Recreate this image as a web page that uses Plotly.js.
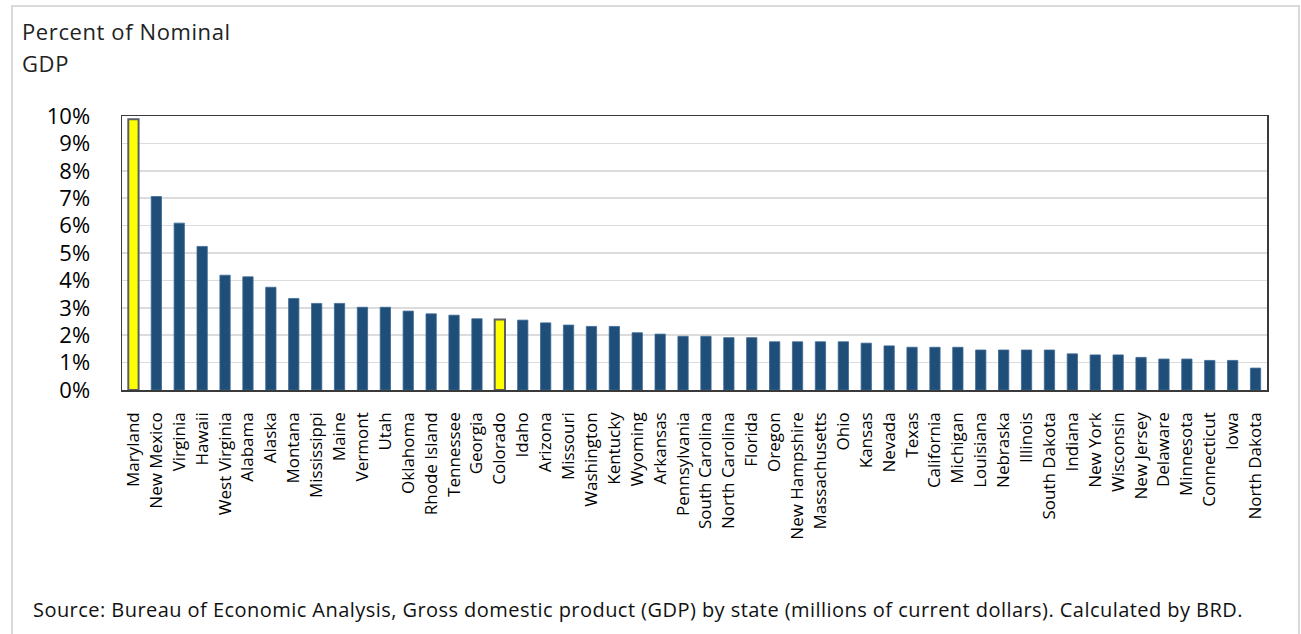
<!DOCTYPE html>
<html>
<head>
<meta charset="utf-8">
<script src="https://cdn.plot.ly/plotly-3.0.1.min.js"></script>
<style>
html,body{margin:0;padding:0;background:#fff;}
#chart{width:1301px;height:634px;}
#chart g.annotation[data-index="0"] .annotation-text,
#chart g.annotation[data-index="1"] .annotation-text{letter-spacing:0.6px;}
#chart g.annotation[data-index="2"] .annotation-text{letter-spacing:0.45px;}
</style>
</head>
<body>
<div id="chart"></div>
<script>
var states = ["Maryland","New Mexico","Virginia","Hawaii","West Virginia","Alabama","Alaska","Montana","Mississippi","Maine","Vermont","Utah","Oklahoma","Rhode Island","Tennessee","Georgia","Colorado","Idaho","Arizona","Missouri","Washington","Kentucky","Wyoming","Arkansas","Pennsylvania","South Carolina","North Carolina","Florida","Oregon","New Hampshire","Massachusetts","Ohio","Kansas","Nevada","Texas","California","Michigan","Louisiana","Nebraska","Illinois","South Dakota","Indiana","New York","Wisconsin","New Jersey","Delaware","Minnesota","Connecticut","Iowa","North Dakota"];
var pctGDP = [9.88,7.06,6.09,5.24,4.19,4.13,3.75,3.34,3.16,3.16,3.02,3.02,2.88,2.78,2.73,2.60,2.57,2.55,2.45,2.37,2.32,2.32,2.09,2.04,1.96,1.96,1.91,1.91,1.76,1.76,1.76,1.76,1.71,1.61,1.56,1.56,1.56,1.46,1.46,1.46,1.46,1.32,1.28,1.28,1.19,1.13,1.13,1.08,1.08,0.80];
var highlighted = ["Maryland","Colorado"];
var yTickVals = [0,1,2,3,4,5,6,7,8,9,10];
var yTickText = ["0%","1%","2%","3%","4%","5%","6%","7%","8%","9%","10%"];
var titleLines = ["Percent of Nominal","GDP"];
var sourceText = "Source: Bureau of Economic Analysis, Gross domestic product (GDP) by state (millions of current dollars). Calculated by BRD.";

var fillColors = states.map(function(s){ return highlighted.indexOf(s) >= 0 ? "#FFFF00" : "#1F4E79"; });
var lineColors = states.map(function(s){ return highlighted.indexOf(s) >= 0 ? "#5a5f66" : "#3d6a96"; });
var lineWidths = states.map(function(s){ return highlighted.indexOf(s) >= 0 ? 2 : 0.8; });

var FONT = "Open Sans, sans-serif";
var trace = {
  type: "bar",
  x: states,
  y: pctGDP,
  marker: {color: fillColors, line: {color: lineColors, width: lineWidths}},
  hoverinfo: "x+y"
};

var layout = {
  width: 1301, height: 634,
  margin: {l: 122, r: 34, t: 116, b: 244},
  paper_bgcolor: "#ffffff", plot_bgcolor: "#ffffff",
  bargap: 0.55,
  showlegend: false,
  font: {family: FONT, color: "#000000"},
  xaxis: {
    type: "category",
    tickangle: -90,
    tickfont: {family: FONT, size: 17, color: "#000000"},
    ticks: "", ticklabelstandoff: 14,
    showline: true, linecolor: "#3a3a3a", linewidth: 1.5, mirror: true,
    showgrid: false, fixedrange: true
  },
  yaxis: {
    range: [0, 10],
    tickvals: yTickVals, ticktext: yTickText,
    tickfont: {family: FONT, size: 22, color: "#000000"},
    ticks: "", ticklabelstandoff: 26,
    showline: true, linecolor: "#3a3a3a", linewidth: 1.5, mirror: true,
    showgrid: true, gridcolor: "#dcdcdc", gridwidth: 1.5,
    zeroline: false, fixedrange: true
  },
  shapes: [{
    type: "rect", xref: "paper", yref: "paper",
    x0: -0.0961, x1: 1.0279, y0: -1.0, y1: 1.4015,
    line: {color: "#d9d9d9", width: 2}, layer: "below"
  }],
  annotations: [
    {xref: "paper", yref: "paper", x: -0.0891, y: 1.3102, xanchor: "left", yanchor: "middle", align: "left",
     text: titleLines[0], showarrow: false, font: {family: FONT, size: 22, color: "#222222"}},
    {xref: "paper", yref: "paper", x: -0.0891, y: 1.1934, xanchor: "left", yanchor: "middle", align: "left",
     text: titleLines[1], showarrow: false, font: {family: FONT, size: 22, color: "#222222"}},
    {xref: "paper", yref: "paper", x: -0.0795, y: -0.8029, xanchor: "left", yanchor: "middle", align: "left",
     text: sourceText, showarrow: false, font: {family: FONT, size: 20, color: "#111111"}}
  ]
};

Plotly.newPlot("chart", [trace], layout, {displayModeBar: false, staticPlot: true});
</script>
</body>
</html>
